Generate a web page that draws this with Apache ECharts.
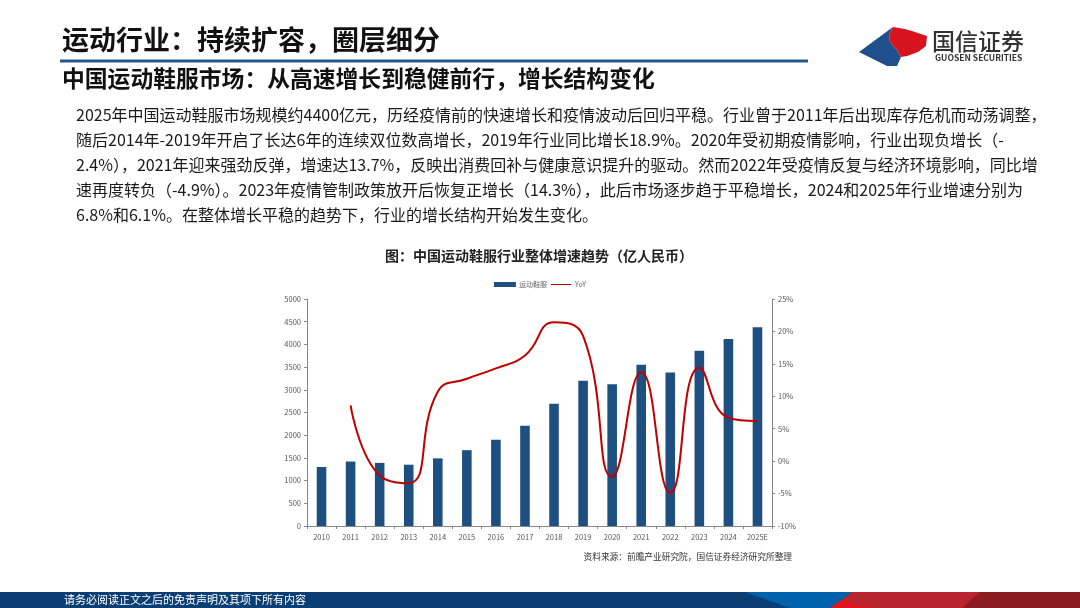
<!DOCTYPE html>
<html>
<head>
<meta charset="utf-8">
<script src="https://cdn.jsdelivr.net/npm/echarts@6/dist/echarts.min.js"></script>
<style>
html,body{margin:0;padding:0;background:#fff;}
#main{width:1080px;height:608px;}
</style>
</head>
<body>
<div id="main"></div>
<script>
var categories = ['2010','2011','2012','2013','2014','2015','2016','2017','2018','2019','2020','2021','2022','2023','2024','2025E'];
var marketSize = [1300,1420,1390,1350,1490,1670,1900,2210,2690,3200,3120,3550,3380,3860,4120,4380];
var yoy = ['-',8.6,-2.2,-3.4,10.7,12.7,14.3,16.3,21.4,19.3,-2.4,13.7,-4.9,14.4,6.7,6.2];
var leftTicks = {min:0, max:5000, interval:500};
var rightTicks = {min:-10, max:25, interval:5};

var paragraph = [
 '2025年中国运动鞋服市场规模约4400亿元，历经疫情前的快速增长和疫情波动后回归平稳。行业曾于2011年后出现库存危机而动荡调整，',
 '随后2014年-2019年开启了长达6年的连续双位数高增长，2019年行业同比增长18.9%。2020年受初期疫情影响，行业出现负增长（-',
 '2.4%），2021年迎来强劲反弹，增速达13.7%，反映出消费回补与健康意识提升的驱动。然而2022年受疫情反复与经济环境影响，同比增',
 '速再度转负（-4.9%）。2023年疫情管制政策放开后恢复正增长（14.3%），此后市场逐步趋于平稳增长，2024和2025年行业增速分别为',
 '6.8%和6.1%。在整体增长平稳的趋势下，行业的增长结构开始发生变化。'
];

var FF = '"Noto Sans CJK SC","Noto Sans",sans-serif';
var chart = echarts.init(document.getElementById('main'), null, {renderer:'canvas'});

var graphics = [
  {type:'text', x:62, y:40, style:{text:'运动行业：持续扩容，圈层细分', font:'bold 27px '+FF, fill:'#111', textVerticalAlign:'middle'}},
  {type:'rect', shape:{x:60, y:59.5, width:748, height:3}, style:{fill:'#24578c'}},
  {type:'text', x:62, y:78, style:{text:'中国运动鞋服市场：从高速增长到稳健前行，增长结构变化', font:'bold 22.8px '+FF, fill:'#111', textVerticalAlign:'middle'}},
  // logo
  {type:'polygon', shape:{points:[[893,27],[889,35],[890,42],[897,50],[901,57],[897,66],[887,66],[859,52]]}, style:{fill:'#1f4f8d'}},
  {type:'polygon', shape:{points:[[893,27],[905,29],[912,31],[918,33],[927,36],[926,46],[918,52],[907,56],[901,57],[897,50],[890,42],[889,35]]}, style:{fill:'#d7141e'}},
  {type:'text', x:932, y:41, style:{text:'国信证券', font:'500 23px '+FF, fill:'#333', textVerticalAlign:'middle'}},
  {type:'text', x:935, y:58, style:{text:'GUOSEN SECURITIES', font:'bold 8.5px '+FF, fill:'#333', textVerticalAlign:'middle'}},
  // chart title and source
  {type:'text', x:539, y:256, style:{text:'图：中国运动鞋服行业整体增速趋势（亿人民币）', font:'bold 14px '+FF, fill:'#222', textAlign:'center', textVerticalAlign:'middle'}},
  {type:'text', x:792, y:557, style:{text:'资料来源：前瞻产业研究院，国信证券经济研究所整理', font:'8.7px '+FF, fill:'#333', textAlign:'right', textVerticalAlign:'middle'}},
  // footer
  {type:'rect', shape:{x:0, y:592, width:1080, height:16}, style:{fill:'#0b3e73'}},
  {type:'polygon', shape:{points:[[745,592],[852,592],[830,608],[790,608]]}, style:{fill:'#0062ad'}},
  {type:'polygon', shape:{points:[[852,592],[1080,592],[1080,608],[830,608]]}, style:{fill:'#b9252e'}},
  {type:'polygon', shape:{points:[[842,600],[870,608],[830,608]]}, style:{fill:'#e0141c'}},
  {type:'polygon', shape:{points:[[980,592],[1080,592],[1080,608],[962,608]]}, style:{fill:'#8c1c20'}},
  {type:'text', x:64, y:600, style:{text:'请务必阅读正文之后的免责声明及其项下所有内容', font:'11px '+FF, fill:'#fff', textVerticalAlign:'middle'}}
];
paragraph.forEach(function(line, i){
  graphics.push({type:'text', x:76, y:115 + i*25, style:{text:line, font:'16px '+FF, fill:'#1a1a1a', textVerticalAlign:'middle'}});
});

chart.setOption({
  animation:false,
  textStyle:{fontFamily:FF},
  graphic:graphics,
  legend:{
    top:276, left:'center', itemWidth:22, itemHeight:5, itemGap:4,
    textStyle:{fontSize:7, color:'#666', padding:[0,0,0,-2]},
    data:[
      {name:'运动鞋服', icon:'rect'},
      {name:'YoY', icon:'path://M0,0L22,0L22,0.01L0,0.01Z M0,2.1L22,2.1L22,3.3L0,3.3Z M0,5.39L22,5.39L22,5.4L0,5.4Z'}
    ]
  },
  grid:{left:307, right:308, top:299, bottom:82, containLabel:false},
  xAxis:{
    type:'category', data:categories,
    axisLine:{lineStyle:{color:'#888', width:1}},
    axisTick:{show:true, length:3, lineStyle:{color:'#888'}},
    axisLabel:{fontSize:7.5, color:'#555', margin:7}
  },
  yAxis:[
    {type:'value', min:leftTicks.min, max:leftTicks.max, interval:leftTicks.interval,
     axisLine:{show:true, lineStyle:{color:'#888'}},
     axisTick:{show:true, length:3, lineStyle:{color:'#888'}},
     splitLine:{show:false},
     axisLabel:{fontSize:7.5, color:'#555', margin:6, formatter:function(v){return String(v);}}},
    {type:'value', min:rightTicks.min, max:rightTicks.max, interval:rightTicks.interval, position:'right',
     axisLine:{show:true, lineStyle:{color:'#888'}},
     axisTick:{show:true, length:3, lineStyle:{color:'#888'}},
     splitLine:{show:false},
     axisLabel:{fontSize:7.5, color:'#555', margin:6, formatter:'{value}%'}}
  ],
  series:[
    {name:'运动鞋服', type:'bar', data:marketSize, barWidth:'33%', itemStyle:{color:'#1d4f80'}},
    {name:'YoY', type:'line', yAxisIndex:1, data:yoy, smooth:0.5, showSymbol:false, symbol:'none',
     lineStyle:{color:'#c00000', width:2}, itemStyle:{color:'#c00000'}}
  ]
});
</script>
</body>
</html>
